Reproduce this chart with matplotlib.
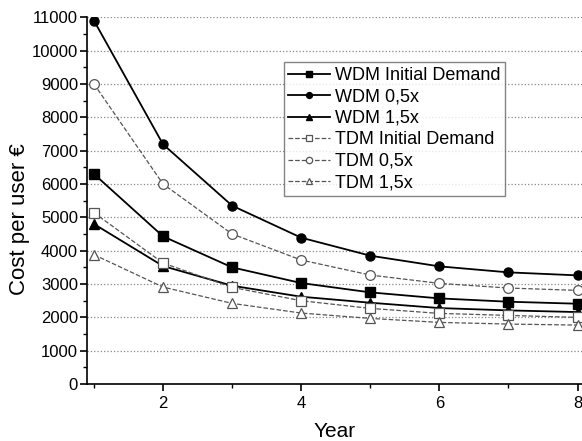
import matplotlib.pyplot as plt
from matplotlib.ticker import MultipleLocator

years = [1, 2, 3, 4, 5, 6, 7, 8]

wdm_initial = [6300, 4430, 3500, 3030, 2750, 2570, 2470, 2410]
wdm_05x = [10900, 7190, 5350, 4390, 3850, 3530, 3350, 3260]
wdm_15x = [4800, 3540, 2950, 2620, 2440, 2280, 2210, 2160]
tdm_initial = [5140, 3630, 2900, 2500, 2270, 2120, 2060, 2000]
tdm_05x = [9000, 6000, 4500, 3720, 3270, 3020, 2880, 2810]
tdm_15x = [3880, 2910, 2420, 2130, 1970, 1850, 1800, 1770]

plt.rcParams['font.family'] = ['Liberation Sans', 'DejaVu Sans']

fig = plt.figure(figsize=(5.82, 4.41), dpi=100)
ax = fig.add_axes([0.1495, 0.129, 0.85, 0.832])

solid = dict(color='black', linestyle='-', linewidth=1.3, markersize=6.5)
dashed = dict(color='#555555', linestyle='--', linewidth=0.9, markersize=7,
              markerfacecolor='white', markeredgecolor='#555555', markeredgewidth=0.9)

ax.plot(years, wdm_initial, marker='s', label='WDM Initial Demand', **solid)
ax.plot(years, wdm_05x, marker='o', label='WDM 0,5x', **solid)
ax.plot(years, wdm_15x, marker='^', label='WDM 1,5x', **solid)
ax.plot(years, tdm_initial, marker='s', label='TDM Initial Demand', **dashed)
ax.plot(years, tdm_05x, marker='o', label='TDM 0,5x', **dashed)
ax.plot(years, tdm_15x, marker='^', label='TDM 1,5x', **dashed)

ax.set_xlim(0.9, 8.06)
ax.set_ylim(0, 11000)
ax.xaxis.set_major_locator(MultipleLocator(2))
ax.xaxis.set_minor_locator(MultipleLocator(1))
ax.yaxis.set_major_locator(MultipleLocator(1000))
ax.yaxis.set_minor_locator(MultipleLocator(500))
ax.tick_params(which='major', direction='out', length=5, width=1.2, labelsize=12)
ax.tick_params(which='minor', direction='out', length=3, width=1.0)
ax.tick_params(axis='y', which='major', pad=1.5)
ax.grid(axis='y', which='major', linestyle=':', color='#888888', linewidth=0.9)
ax.set_axisbelow(True)

for s in ['top', 'right']:
    ax.spines[s].set_visible(False)
for s in ['left', 'bottom']:
    ax.spines[s].set_linewidth(1.2)

ax.set_xlabel('Year', fontsize=15)
ax.set_ylabel('Cost per user €', fontsize=16)
ax.xaxis.set_label_coords(0.5, -0.13)
ax.yaxis.set_label_coords(-0.137, 0.45)
ax.xaxis.label.set_va('center')
ax.yaxis.label.set_va('center')

leg = ax.legend(loc='upper left', bbox_to_anchor=(0.398, 0.877), borderaxespad=0,
                fontsize=13, frameon=True, fancybox=False, handlelength=2.3,
                markerscale=0.65, borderpad=0.25, labelspacing=0.25,
                handletextpad=0.3)
leg.get_frame().set_edgecolor('#666666')
leg.get_frame().set_linewidth(1.0)

fig.savefig('out.png', dpi=100)
